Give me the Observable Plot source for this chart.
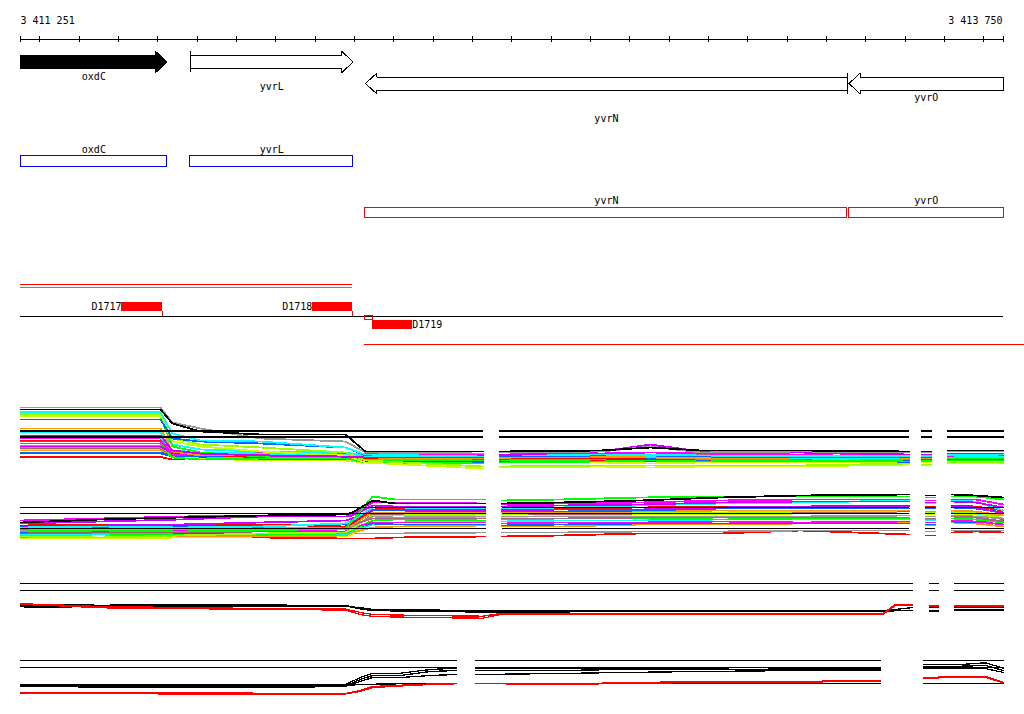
<!DOCTYPE html>
<html>
<head>
<meta charset="utf-8">
<script src="https://cdn.jsdelivr.net/npm/d3@7"></script>
<script src="https://cdn.jsdelivr.net/npm/@observablehq/plot@0.6"></script>
<style>
  body { margin: 0; background: #fff; }
  #chart { width: 1024px; height: 714px; overflow: hidden; background: #fff; }
  #chart svg { display: block; shape-rendering: crispEdges; }
</style>
</head>
<body>
<div id="chart"></div>
<script>
// ---------------- DATA ----------------
const viewStart = 3411251, viewEnd = 3413750;
const rulerLabels = ["3 411 251", "3 413 750"];
const rulerStep = 100;

// genes
const geneNames   = ["oxdC", "yvrL", "yvrN", "yvrO"];
const geneStarts  = [3411251, 3411683, 3412128, 3413357];
const geneEnds    = [3411624, 3412097, 3413353, 3413750];
const geneStrands = ["+", "+", "-", "-"];
const geneSelected = [true, false, false, false];
const geneTruncated5 = [true, false, false, true];

// transcript spans (upper) and lower span
const spanNames  = ["upper", "lower"];
const spanStarts = [3411251, 3411251];
const spanEnds   = [3412095, 3412095];
const lowerSpanStart = 3412126, lowerSpanEnd = 3413803;

// probe features
const featNames   = ["D1717", "D1718", "D1719"];
const featStarts  = [3411508, 3411993, 3412146];
const featEnds    = [3411612, 3412095, 3412247];
const featSides   = ["above", "above", "below"];
const featAnchors = [3411611, 3412095, 3412126];

// expression profile panels (null = no probe coverage)
const probesP1 = [3411251, 3411607, 3411637, 3411709, 3411861, 3412077, 3412128, 3412426, null,
  3412469, 3412726, 3412853, 3412980, 3413234, 3413509, null, 3413542, 3413567, null, 3413608, 3413750];
const seriesP1 = [
  [2.7,2.7,2.4,2.3,2.1,2.1,2.0,1.8,null,1.9,1.9,1.9,2.0,1.9,1.8,null,1.8,1.8,null,1.9,1.9],
  [2.35,2.35,2.1,2.3,2.3,2.2,1.9,1.9,null,2.0,2.0,1.9,1.9,2.0,1.9,null,1.9,1.9,null,2.0,2.0],
  [3.1,3.1,2.4,2.2,2.0,2.0,1.8,1.7,null,1.8,1.8,1.7,1.8,1.8,1.9,null,1.8,1.8,null,1.9,1.9],
  [3.2,3.2,2.5,2.4,2.3,2.3,2.1,2.0,null,2.1,2.1,2.0,2.1,2.1,2.1,null,2.0,2.0,null,2.1,2.1],
  [3.0,3.0,2.4,2.4,2.3,2.4,2.2,2.1,null,2.2,2.2,2.2,2.1,2.2,2.2,null,2.1,2.1,null,2.2,2.2],
  [2.8,2.8,2.5,2.4,2.4,2.4,2.2,2.1,null,2.1,2.1,2.2,2.1,2.2,2.0,null,2.1,2.1,null,2.1,2.1],
  [3.5,3.5,2.3,2.1,2.2,2.2,2.1,2.0,null,2.0,2.1,2.1,2.1,2.0,1.9,null,1.9,1.9,null,2.0,2.0],
  [3.3,3.3,2.6,2.7,2.6,2.5,2.3,2.2,null,2.3,2.3,2.3,2.3,2.3,2.3,null,2.3,2.3,null,2.2,2.2],
  [3.4,3.4,2.7,2.5,2.7,2.6,2.4,2.4,null,2.6,2.7,2.8,2.8,2.8,2.6,null,2.6,2.6,null,2.7,2.7],
  [3.7,3.7,2.8,2.8,2.8,2.7,2.5,2.4,null,2.5,2.5,2.5,2.6,2.5,2.4,null,2.4,2.4,null,2.5,2.5],
  [4.0,4.0,2.7,2.6,2.3,2.3,2.2,2.2,null,2.3,2.2,2.1,2.2,2.2,2.1,null,2.2,2.2,null,2.3,2.3],
  [3.9,3.9,2.9,2.6,2.5,2.5,2.4,2.3,null,2.4,2.5,2.6,2.5,2.6,2.3,null,2.4,2.4,null,2.4,2.4],
  [4.2,4.2,2.5,2.7,2.6,2.7,2.7,2.6,null,2.8,2.7,2.8,2.7,2.8,2.5,null,2.5,2.5,null,2.6,2.6],
  [4.3,4.3,3.0,2.8,2.7,2.6,2.4,2.3,null,2.5,2.5,2.6,2.5,2.5,2.5,null,2.5,2.5,null,2.6,2.6],
  [4.8,4.8,3.6,3.1,2.9,2.8,2.5,2.2,null,2.3,2.4,2.4,2.3,2.2,2.1,null,2.2,2.2,null,2.3,2.3],
  [5.2,5.2,2.9,2.5,2.5,2.4,2.3,2.2,null,2.3,2.4,2.3,2.2,2.3,2.4,null,2.2,2.2,null,2.3,2.3],
  [6.4,6.4,3.4,2.8,2.4,2.2,1.8,1.7,null,1.8,1.9,2.0,1.9,1.9,2.1,null,2.0,2.0,null,2.2,2.2],
  [6.47,6.47,3.9,3.4,2.9,2.5,1.8,1.2,null,1.3,1.4,1.3,1.4,1.4,1.6,null,1.5,1.5,null,1.7,1.7],
  [6.63,6.63,4.2,3.6,3.3,2.8,2.0,1.4,null,1.4,1.5,1.5,1.5,1.5,1.7,null,1.6,1.6,null,1.8,1.8],
  [6.1,6.1,4.2,3.9,3.7,3.3,2.5,2.5,null,2.4,2.5,2.5,2.4,2.3,2.3,null,2.3,2.3,null,2.5,2.5],
  [6.83,6.83,4.7,4.0,3.9,3.3,2.6,2.4,null,2.5,2.6,2.5,2.5,2.4,2.4,null,2.4,2.4,null,2.5,2.4],
  [4.5,4.5,3.0,2.7,2.5,2.4,2.3,2.3,null,2.5,2.9,3.6,2.9,2.8,2.6,null,2.6,2.6,null,2.7,2.7],
  [7.3,7.3,5.8,5.2,4.2,3.9,2.8,2.7,null,2.8,2.9,3.4,2.8,2.9,2.8,null,2.8,2.8,null,2.9,2.9],
  [7.1,7.1,5.7,4.9,4.6,4.6,2.9,2.9,null,2.9,3.0,3.3,3.0,3.0,2.9,null,2.9,2.9,null,3.0,3.0]
];
const thresholdsP1 = [4.95, 4.35];

const probesP2 = [3411251, 3411454, 3411658, 3411861, 3412077, 3412095, 3412146, 3412204, 3412433, null,
  3412476, 3412624, 3412827, 3413031, 3413234, 3413509, null, 3413552, 3413575, null, 3413618, 3413679, 3413750];
const seriesP2 = [
  [1.3,1.3,1.3,1.3,1.2,1.2,1.2,1.3,1.4,null,1.4,1.5,1.7,1.7,2.0,1.6,null,1.5,1.5,null,1.8,1.9,1.8],
  [1.3,1.3,1.4,1.5,1.6,1.7,1.7,1.7,1.8,null,1.8,1.8,1.9,1.9,2.0,2.0,null,1.9,1.9,null,2.0,2.0,2.0],
  [1.2,1.2,1.3,1.4,1.4,1.6,3.1,3.2,3.3,null,3.3,3.5,3.6,3.6,3.7,3.7,null,3.6,3.6,null,3.7,3.6,3.1],
  [1.5,1.6,1.4,1.4,1.5,1.8,2.3,2.4,2.5,null,2.4,2.4,2.6,2.6,2.7,2.8,null,2.5,2.5,null,2.8,2.7,2.4],
  [1.6,1.6,1.7,1.7,1.6,2.0,2.6,2.8,2.9,null,2.9,3.0,3.0,3.1,3.1,3.1,null,3.0,3.0,null,3.8,3.7,3.5],
  [1.8,1.7,1.7,1.7,1.8,2.2,2.7,2.6,2.6,null,2.5,2.6,2.7,2.7,2.7,2.7,null,2.6,2.6,null,2.9,2.8,3.0],
  [1.7,1.7,1.6,1.6,1.7,2.0,3.0,3.1,3.0,null,3.1,3.2,3.2,3.1,3.2,3.2,null,3.1,3.1,null,3.2,3.1,2.8],
  [1.7,1.8,1.8,1.9,1.9,2.2,3.6,3.6,3.6,null,3.6,3.6,3.7,3.8,3.8,3.9,null,3.8,3.8,null,3.9,3.9,3.1],
  [1.9,1.9,2.0,2.0,1.9,2.3,2.8,2.8,2.8,null,2.7,2.8,2.8,2.9,2.8,2.9,null,2.8,2.8,null,3.0,2.9,2.6],
  [1.4,1.3,1.5,1.7,1.8,2.2,3.5,3.5,3.6,null,3.6,3.8,3.8,3.8,3.9,4.0,null,3.8,3.8,null,3.9,3.8,3.2],
  [2.0,2.0,2.1,2.1,2.1,2.4,3.4,3.3,3.4,null,3.4,3.4,3.4,3.4,3.4,3.5,null,3.4,3.4,null,3.5,3.4,3.2],
  [2.1,2.2,2.3,2.3,2.3,2.6,3.2,3.2,3.2,null,3.2,3.2,3.3,3.3,3.3,3.3,null,3.2,3.2,null,3.4,3.3,2.9],
  [2.2,2.1,2.2,2.2,2.4,2.6,3.8,3.8,3.8,null,3.8,3.8,3.9,4.0,4.0,4.0,null,3.9,3.9,null,4.0,3.9,3.5],
  [2.4,2.3,2.4,2.5,2.6,2.9,4.0,4.0,3.9,null,3.9,3.9,4.0,4.2,4.2,4.2,null,4.2,4.2,null,4.3,4.2,3.8],
  [2.5,2.6,2.5,2.6,2.4,2.7,4.1,4.2,4.1,null,4.1,4.2,4.3,4.4,4.4,4.5,null,4.4,4.4,null,4.5,4.4,4.0],
  [2.3,2.5,2.6,2.8,3.0,3.2,4.1,4.1,4.0,null,4.0,4.1,4.1,4.3,4.4,4.4,null,4.3,4.3,null,4.4,4.3,3.7],
  [2.3,2.4,2.3,2.4,2.7,3.0,4.3,4.3,4.2,null,4.2,4.3,4.5,4.7,4.8,5.0,null,4.7,4.7,null,5.0,4.9,4.0],
  [2.7,2.9,3.1,3.4,3.4,3.5,4.5,4.4,4.4,null,4.4,4.5,4.6,4.8,4.9,4.9,null,4.8,4.8,null,4.9,4.8,4.3],
  [3.0,3.2,3.4,3.5,3.6,3.7,4.8,4.8,4.7,null,4.6,4.7,4.8,5.0,5.1,5.1,null,5.0,5.0,null,5.1,5.1,4.6],
  [1.9,2.0,1.9,2.0,2.2,3.0,5.4,5.1,5.1,null,5.0,5.1,5.3,5.4,5.4,5.4,null,5.3,5.3,null,5.4,5.4,5.1],
  [2.8,3.1,3.3,3.5,3.6,3.8,5.0,4.7,4.7,null,4.7,4.8,5.0,5.3,5.5,5.6,null,5.5,5.5,null,5.6,5.5,5.3]
];
const thresholdsP2 = [4.3, 3.7, 2.2];

const probesP3 = [3411251, 3411315, 3411454, 3411658, 3411861, 3412077, 3412115, 3412146, 3412268, 3412426,
  3412471, 3412726, 3412980, 3413234, 3413445, 3413475, 3413519, null, 3413562, 3413585, null, 3413625, 3413750];
const seriesP3 = [
  [1.53,1.57,1.53,1.57,1.55,1.5,1.2,1.0,0.95,0.9,0.9,0.93,0.95,1.0,1.0,1.1,1.3,null,1.3,1.3,null,1.3,1.3],
  [1.45,1.45,1.45,1.45,1.4,1.4,1.3,1.1,1.05,1.0,0.95,1.0,1.0,1.03,1.03,1.03,1.03,null,1.03,1.03,null,1.05,1.05],
  [1.37,1.33,1.4,1.4,1.45,1.45,1.15,1.0,0.9,0.85,0.85,0.87,0.9,0.9,0.93,0.97,0.97,null,0.93,0.93,null,0.97,0.97],
  [1.67,1.6,1.4,1.3,1.2,1.15,0.8,0.6,0.5,0.43,0.7,0.7,0.7,0.7,0.73,1.6,1.63,null,1.5,1.5,null,1.5,1.5],
  [1.6,1.53,1.27,1.2,1.1,1.05,0.6,0.4,0.3,0.23,0.6,0.63,0.65,0.63,0.65,1.5,1.55,null,1.43,1.43,null,1.4,1.4]
];
const thresholdsP3 = [3.67, 2.97];

const probesP4 = [3411251, 3411454, 3411658, 3411861, 3412077, 3412115, 3412146, 3412217, 3412293, 3412359, null,
  3412408, 3412624, 3412776, 3412980, 3413234, 3413437, null, 3413547, 3413641, 3413704, 3413750];
const seriesP4 = [
  [1.6,1.6,1.6,1.55,1.6,2.3,2.73,2.73,3.1,3.23,null,3.23,3.2,3.25,3.25,3.3,3.3,null,3.57,3.6,3.77,3.23],
  [1.45,1.4,1.35,1.4,1.45,2.1,2.5,2.5,2.9,3.0,null,3.0,3.0,3.1,3.1,3.15,3.15,null,3.4,3.43,3.5,3.0],
  [1.4,1.35,1.3,1.3,1.4,1.9,2.3,2.3,2.5,2.6,null,2.6,2.7,2.8,2.9,3.0,3.0,null,3.2,3.23,3.2,2.8],
  [1.53,1.5,1.47,1.5,1.5,1.6,1.63,1.67,1.67,1.67,null,1.67,1.67,1.67,1.67,1.67,1.67,null,1.67,1.67,1.67,1.67],
  [0.77,0.77,0.77,0.73,0.7,1.0,1.4,1.53,1.65,1.73,null,1.73,1.65,1.77,1.9,1.9,2.03,null,2.27,2.43,2.4,1.83],
  [0.7,0.7,0.65,0.65,0.65,0.9,1.3,1.45,1.6,1.67,null,1.7,1.6,1.7,1.8,1.85,1.9,null,2.2,2.35,2.3,1.77]
];
const thresholdsP4 = [4.0, 3.27];

// ---------------- STYLES / LAYOUT ----------------
const colorsP1 = ["#0066ff","#ff0000","#ccff00","#996666","#ff9900","#0066ff","#00ff00","#999999",
  "#cc00ff","#aa6688","#ff0000","#ff00ff","#ff00ff","#00ffff","#00ffff","#ff9900","#00ff00","#ccff00",
  "#99ff00","#0066ff","#00ffff","#cc00ff","#999999","#000000"];
const colorsP2 = ["#ff0000","#999999","#ccff00","#ff9900","#00ffff","#0066ff","#00ff00","#996666",
  "#ff00ff","#99ff00","#999999","#aa6688","#ff9900","#0066ff","#ff0000","#cc00ff","#00ffff","#cc00ff",
  "#ff00ff","#00ff00","#000000"];
const colorsP3 = ["#000000","#000000","#000000","#ff0000","#ff0000"];
const colorsP4 = ["#000000","#000000","#000000","#000000","#ff0000","#ff0000"];
const widthsByPanel = [1.8, 1.8, 1.3, 1.3];

const FONT = "DejaVu Sans Mono";
const layout = {
  rulerY: 38.5, tickY1: 35.5, tickY2: 41.5, rulerLabelY: 20,
  strandY: {"+": 61.5, "-": 83}, bodyHalf: 6.5, headHalf: 10.5, headPx: 11.5,
  arrowLabelY: {oxdC: 76, yvrL: 86.5, yvrN: 118, yvrO: 97.5},
  boxY: {"+": [155.5, 166], "-": [207.5, 217.5]}, boxLabelY: {"+": 149, "-": 200},
  spanY: {upper: [284, 285], lower: [287, 288]}, spanColors: {upper: "#ff0000", lower: "#00dd00"},
  featBaseY: 315.5, featY: {above: [302, 310.5], below: [320, 328.5]}, elbowY: 319.5,
  featLabelY: {above: 306.5, below: 324.5},
  lowerSpanY: 343.5
};
const strandColor = {"+": "#0000ff", "-": "#ff0000"};
const xRange = [20, 1003];
const bpPerPx = (viewEnd - viewStart) / (xRange[1] - xRange[0]);

// ---------------- BUILD ----------------
const genes = geneNames.map((name, i) => ({name, start: geneStarts[i], end: geneEnds[i],
  strand: geneStrands[i], selected: geneSelected[i], truncated5: geneTruncated5[i]}));
const feats = featNames.map((name, i) => ({name, start: featStarts[i], end: featEnds[i],
  side: featSides[i], anchor: featAnchors[i]}));
const spans = spanNames.map((name, i) => ({name, start: spanStarts[i], end: spanEnds[i]}));

function arrowPolygon(g) {
  const c = layout.strandY[g.strand], b = layout.bodyHalf, h = layout.headHalf, L = layout.headPx * bpPerPx;
  if (g.strand === "+") {
    const s = g.start, e = g.end, k = e - L;
    return [[s,c-b],[k,c-b],[k,c-h],[e,c],[k,c+h],[k,c+b],[s,c+b],[s,c-b]];
  }
  const s = g.start, e = g.end, k = s + L;
  return [[e,c-b],[k,c-b],[k,c-h],[s,c],[k,c+h],[k,c+b],[e,c+b],[e,c-b]];
}
const arrowRows = genes.flatMap(g => arrowPolygon(g).map(([x, y]) => ({name: g.name, selected: g.selected, x, y})));

const ticks = [viewStart, ...d3.range(Math.ceil((viewStart + 1) / rulerStep) * rulerStep, viewEnd, rulerStep), viewEnd];
const txt = {fontFamily: FONT, fontSize: 10, fill: "black", stroke: "none"};

const topPlot = Plot.plot({
  width: 1024, height: 350, margin: 0,
  style: {background: "white"},
  x: {domain: [viewStart, viewEnd], range: xRange, axis: null},
  y: {type: "identity", axis: null},
  color: {type: "identity"},
  marks: [
    // ruler
    Plot.ruleY([layout.rulerY], {x1: viewStart, x2: viewEnd, stroke: "black"}),
    Plot.ruleX(ticks, {x: d => d, y1: layout.tickY1, y2: layout.tickY2, stroke: "black"}),
    Plot.text([viewStart], {x: d => d, y: layout.rulerLabelY, text: () => rulerLabels[0], textAnchor: "start", ...txt}),
    Plot.text([viewEnd], {x: d => d, y: layout.rulerLabelY, text: () => rulerLabels[1], textAnchor: "end", dx: -1, ...txt}),
    // gene arrows
    Plot.line(arrowRows.filter(d => !d.selected), {x: "x", y: "y", z: "name", fill: "white", stroke: "black", strokeWidth: 1}),
    Plot.line(arrowRows.filter(d => d.selected), {x: "x", y: "y", z: "name", fill: "black", stroke: "black", strokeWidth: 1}),
    Plot.ruleX(genes.filter(g => !g.truncated5), {x: g => g.strand === "+" ? g.start : g.end,
      y1: g => layout.strandY[g.strand] - layout.headHalf, y2: g => layout.strandY[g.strand] + layout.headHalf, stroke: "black"}),
    Plot.text(genes, {x: g => (g.start + g.end) / 2, y: g => layout.arrowLabelY[g.name], text: "name", ...txt}),
    // gene boxes by strand
    Plot.rect(genes.filter(g => g.strand === "+"), {x1: "start", x2: "end", y1: layout.boxY["+"][0], y2: layout.boxY["+"][1], fill: "none", stroke: strandColor["+"]}),
    Plot.rect(genes.filter(g => g.strand === "-"), {x1: "start", x2: "end", y1: layout.boxY["-"][0], y2: layout.boxY["-"][1], fill: "none", stroke: strandColor["-"]}),
    Plot.text(genes, {x: g => (g.start + g.end) / 2, y: g => layout.boxLabelY[g.strand], text: "name", ...txt}),
    // transcript spans (1px filled bands)
    Plot.rect(spans, {x1: "start", x2: "end", y1: d => layout.spanY[d.name][0], y2: d => layout.spanY[d.name][1], fill: d => layout.spanColors[d.name]}),
    // feature track
    Plot.ruleY([layout.featBaseY], {x1: viewStart, x2: viewEnd, stroke: "black"}),
    Plot.rect(feats, {x1: "start", x2: "end", y1: d => layout.featY[d.side][0], y2: d => layout.featY[d.side][1], fill: "#ff0000"}),
    Plot.ruleX(feats.filter(d => d.side === "above"), {x: "anchor", y1: layout.featY.above[1], y2: layout.featBaseY, stroke: "#ff0000"}),
    Plot.rect(feats.filter(d => d.side === "below"), {x1: "anchor", x2: "start", y1: layout.featBaseY, y2: layout.elbowY, fill: "none", stroke: "#ff0000"}),
    Plot.text(feats.filter(d => d.side === "above"), {x: "start", y: layout.featLabelY.above, text: "name", textAnchor: "end", ...txt}),
    Plot.text(feats.filter(d => d.side === "below"), {x: "end", y: layout.featLabelY.below, text: "name", textAnchor: "start", ...txt}),
    // lower span
    Plot.ruleY([layout.lowerSpanY], {x1: lowerSpanStart, x2: lowerSpanEnd, stroke: "#ff0000"})
  ]
});

function panel(probes, series, colors, thresholds, height, yDomain, yRange, lineWidth) {
  const rows = series.flatMap((vals, i) => vals.map((v, j) => ({s: i, x: probes[j], v, hue: colors[i]})));
  const refs = thresholds.flatMap((t, i) => probes.map(p => ({r: i, x: p, v: p == null ? null : t})));
  return Plot.plot({
    width: 1024, height, margin: 0,
    style: {background: "white"},
    x: {domain: [viewStart, viewEnd], range: xRange, axis: null},
    y: {domain: yDomain, range: yRange, axis: null},
    color: {type: "identity"},
    marks: [
      Plot.line(rows, {x: "x", y: "v", z: "s", stroke: "hue", strokeWidth: lineWidth}),
      Plot.line(refs, {x: "x", y: "v", z: "r", stroke: "black", strokeWidth: 1.2})
    ]
  });
}

const chart = document.getElementById("chart");
chart.append(
  topPlot,
  panel(probesP1, seriesP1, colorsP1, thresholdsP1, 130, [0, 13], [130, 0], widthsByPanel[0]),
  panel(probesP2, seriesP2, colorsP2, thresholdsP2, 80, [0, 7], [70, 0], widthsByPanel[1]),
  panel(probesP3, seriesP3, colorsP3, thresholdsP3, 80, [0, 6], [60, 0], widthsByPanel[2]),
  panel(probesP4, seriesP4, colorsP4, thresholdsP4, 74, [0, 6], [60, 0], widthsByPanel[3])
);
</script>
</body>
</html>
